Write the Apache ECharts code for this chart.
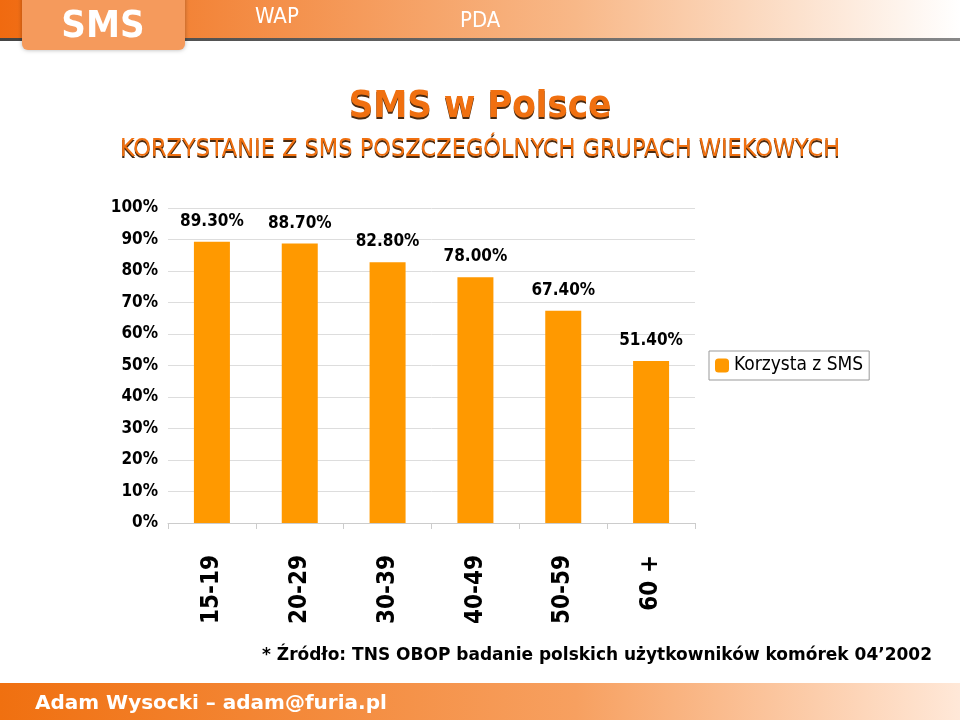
<!DOCTYPE html>
<html><head><meta charset="utf-8">
<script src="https://cdn.jsdelivr.net/npm/echarts@6/dist/echarts.min.js"></script>
<style>html,body{margin:0;padding:0;background:#fff}#c{width:960px;height:720px}</style>
</head><body><div id="c"></div>
<script>
const categories = ['15-19', '20-29', '30-39', '40-49', '50-59', '60 +']
const values = [89.3, 88.7, 82.8, 78.0, 67.4, 51.4]
const seriesName = 'Korzysta z SMS'

const chart = echarts.init(document.getElementById('c'))
const narrow = '"DejaVu Sans Condensed", sans-serif'
const shadowText = (text, y, size, weight) => ([
  { type: 'text', left: 'center', top: y + 2, style: { text, fill: '#4a2a10', font: `${weight} ${size}px ${narrow}` }, z: 1 },
  { type: 'text', left: 'center', top: y, style: { text, fill: '#f07010', font: `${weight} ${size}px ${narrow}` }, z: 2 },
])

const option = {
  animation: false,
  graphic: [
    { type: 'rect', shape: { x: 0, y: 0, width: 960, height: 40 },
      style: { fill: new echarts.graphic.LinearGradient(0, 0, 1, 0, [
        { offset: 0, color: '#f06a10' }, { offset: 0.6, color: '#f8b888' }, { offset: 1, color: '#ffffff' }]) } },
    { type: 'rect', shape: { x: 0, y: 38, width: 960, height: 3 },
      style: { fill: new echarts.graphic.LinearGradient(0, 0, 1, 0, [
        { offset: 0, color: '#444' }, { offset: 1, color: '#888' }]) } },
    { type: 'rect', shape: { x: 22, y: -10, width: 163, height: 60, r: 6 }, style: { fill: '#f59a5c', shadowBlur: 4, shadowColor: 'rgba(0,0,0,0.3)' }, z: 3 },
    { type: 'text', x: 103, y: 8, z: 4, style: { text: 'SMS', align: 'center', fill: '#fff', font: 'bold 38px "DejaVu Sans Condensed", sans-serif' } },
    { type: 'text', x: 255, y: 6, style: { text: 'WAP', fill: '#fff', font: `22px ${narrow}` } },
    { type: 'text', x: 460, y: 10, style: { text: 'PDA', fill: '#fff', font: `22px ${narrow}` } },
    ...shadowText('SMS w Polsce', 88, 38, 'bold'),
    ...shadowText('KORZYSTANIE Z SMS POSZCZEGÓLNYCH GRUPACH WIEKOWYCH', 137, 25, 'normal'),
    { type: 'text', x: 262, y: 647, style: { text: '* Źródło: TNS OBOP badanie polskich użytkowników komórek 04’2002', fill: '#000', font: 'bold 17px "DejaVu Sans", sans-serif' } },
    { type: 'rect', shape: { x: 0, y: 683, width: 960, height: 37 },
      style: { fill: new echarts.graphic.LinearGradient(0, 0, 1, 0, [
        { offset: 0, color: '#f07010' }, { offset: 0.6, color: '#f7a060' }, { offset: 1, color: '#ffe8d8' }]) } },
    { type: 'text', x: 35, y: 694, style: { text: 'Adam Wysocki – adam@furia.pl', fill: '#fff', font: 'bold 20px "DejaVu Sans", sans-serif' } },
  ],
  legend: {
    left: 709, top: 351, orient: 'vertical', itemWidth: 14, itemHeight: 14, padding: [5, 6],
    borderColor: '#999', borderWidth: 1, backgroundColor: '#fff',
    textStyle: { fontFamily: narrow, fontSize: 19, color: '#000' },
    data: [seriesName],
  },
  grid: { left: 168, right: 265, top: 208, bottom: 197, containLabel: false },
  xAxis: {
    type: 'category', data: categories,
    axisLine: { lineStyle: { color: '#ccc' } },
    axisTick: { show: true, length: 6, lineStyle: { color: '#ccc' } },
    axisLabel: { rotate: 90, margin: 32, color: '#000', fontWeight: 'bold', fontSize: 24, fontFamily: narrow },
  },
  yAxis: {
    type: 'value', min: 0, max: 100, interval: 10,
    axisLabel: { formatter: '{value}%', color: '#000', fontWeight: 'bold', fontSize: 17, fontFamily: narrow, margin: 10 },
    splitLine: { lineStyle: { color: '#ddd' } },
    axisLine: { show: false }, axisTick: { show: false },
  },
  series: [{
    name: seriesName, type: 'bar', data: values, barWidth: 36,
    itemStyle: { color: '#ff9900' },
    label: { show: true, position: 'top', distance: 12, formatter: p => p.value.toFixed(2) + '%',
      color: '#000', fontWeight: 'bold', fontSize: 17, fontFamily: narrow },
  }],
}
chart.setOption(option)
</script></body></html>
